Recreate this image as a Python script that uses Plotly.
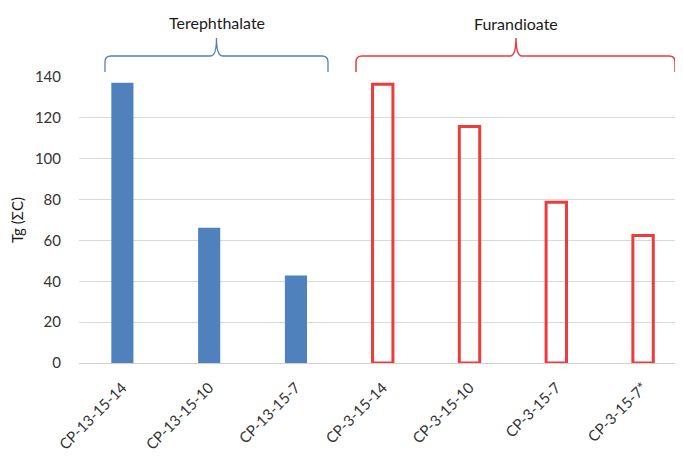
import plotly.graph_objects as go

categories = ["CP-13-15-14", "CP-13-15-10", "CP-13-15-7",
              "CP-3-15-14", "CP-3-15-10", "CP-3-15-7", "CP-3-15-7*"]
tere_cats = categories[:3]
tere_vals = [137.2, 66.2, 42.8]
furan_cats = categories[3:]
furan_vals = [136.4, 115.8, 78.7, 62.4]
group_labels = ["Terephthalate", "Furandioate"]
y_ticks = [0, 20, 40, 60, 80, 100, 120, 140]

OFF = 8  # page body margin offset
W, H = 683 - OFF, 457 - OFF
L, R, T, B = 79 - OFF, 0, 77 - OFF, 94
PW, PH = W - L - R, H - T - B

BLUE = "#4F81BD"
RED = "#EE3B3B"
FONT = "Lato"


def px(x, y):
    return (x - OFF - L) / PW, (H - B - (y - OFF)) / PH


def bracket(x0, x1, xm, ybot, yh, ytop, r=6):
    def p(x, y):
        a, b = px(x, y)
        return f"{a:.5f},{b:.5f}"
    d = (f"M {p(x0, ybot)} L {p(x0, yh + r)} Q {p(x0, yh)} {p(x0 + r, yh)} "
         f"L {p(xm - r, yh)} Q {p(xm, yh)} {p(xm, ytop)} "
         f"Q {p(xm, yh)} {p(xm + r, yh)} L {p(x1 - r, yh)} "
         f"Q {p(x1, yh)} {p(x1, yh + r)} L {p(x1, ybot)}")
    return d


fig = go.Figure()
fig.add_trace(go.Bar(x=tere_cats, y=tere_vals, width=0.255,
                     marker=dict(color=BLUE, line=dict(width=0))))
fig.add_trace(go.Bar(x=furan_cats, y=furan_vals, width=0.235,
                     marker=dict(color="rgba(0,0,0,0)", line=dict(color=RED, width=3))))

shapes = [
    dict(type="path", xref="paper", yref="paper",
         path=bracket(105, 328, 216.5, 72, 56, 38), line=dict(color=BLUE, width=1.3)),
    dict(type="path", xref="paper", yref="paper",
         path=bracket(356, 675, 516, 72, 56, 38), line=dict(color=RED, width=1.5)),
]

ann = []
for lbl, xp, yp in [(group_labels[0], 217, 22), (group_labels[1], 516, 24)]:
    a, b = px(xp, yp)
    ann.append(dict(x=a, y=b, xref="paper", yref="paper", text=lbl, showarrow=False,
                    xanchor="center", yanchor="middle",
                    font=dict(family=FONT, size=16, color="#1a1a1a")))

fig.update_layout(
    width=W, height=H,
    margin=dict(l=L, r=R, t=T, b=B),
    paper_bgcolor="white", plot_bgcolor="white",
    barmode="overlay", showlegend=False,
    shapes=shapes, annotations=ann,
    font=dict(family=FONT, size=14, color="#404040"),
    xaxis=dict(type="category", categoryorder="array", categoryarray=categories,
               range=[-0.5, 6.46], tickangle=-45, showgrid=False, automargin=False,
               showline=False, ticks="outside", ticklen=9, tickcolor="rgba(0,0,0,0)",
               tickfont=dict(size=15, color="#333333")),
    yaxis=dict(range=[0, 140], tickvals=y_ticks, showgrid=True, gridcolor="#D9D9D9",
               gridwidth=1, zeroline=True, zerolinecolor="#D0D0D0", zerolinewidth=1,
               ticks="outside", ticklen=14, tickcolor="rgba(0,0,0,0)", automargin=False,
               tickfont=dict(size=15, color="#333333"),
               title=dict(text="Tg (ΣC)", standoff=12, font=dict(size=15, color="#1a1a1a"))),
)

fig.write_html("out.html")
